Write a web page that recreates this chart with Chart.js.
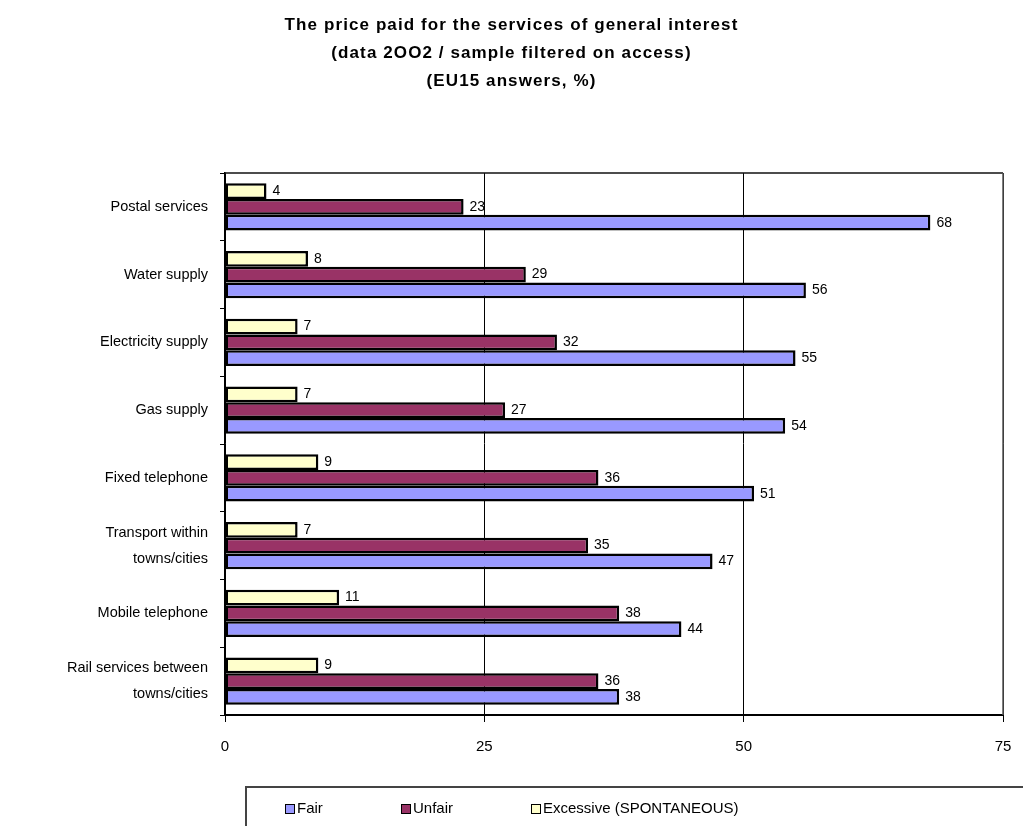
<!DOCTYPE html>
<html>
<head>
<meta charset="utf-8">
<script src="https://cdn.jsdelivr.net/npm/chart.js@4/dist/chart.umd.min.js"></script>
<style>
    body { margin: 0; background: #fff; }
    #wrap { position: relative; width: 1023px; height: 826px; overflow: hidden; }
    #legend {
        position: absolute; left: 245px; top: 786px; width: 780px; height: 60px;
        border: 2px solid #444; box-sizing: border-box;
        font-family: "Liberation Sans", Arial, sans-serif; font-size: 15px; color: #000;
    }
    .item { position: absolute; top: 11px; white-space: nowrap; }
    .sw { display: inline-block; width: 8px; height: 8px; border: 1.5px solid #000; margin-right: 2px; vertical-align: -1px; }
</style>
</head>
<body>
<div id="wrap">
    <canvas id="chart" width="1023" height="826"></canvas>
    <div id="legend">
        <span class="item" style="left:38px"><span class="sw" style="background:#9999ff"></span>Fair</span>
        <span class="item" style="left:154px"><span class="sw" style="background:#993366"></span>Unfair</span>
        <span class="item" style="left:284px"><span class="sw" style="background:#ffffcc"></span>Excessive (SPONTANEOUS)</span>
    </div>
</div>
<script>
    const titleLines = [
        "The price paid for the services of general interest",
        "(data 2OO2 / sample filtered on access)",
        "(EU15 answers, %)"
    ];
    const categories = [
        "Postal services",
        "Water supply",
        "Electricity supply",
        "Gas supply",
        "Fixed telephone",
        ["Transport within", "towns/cities"],
        "Mobile telephone",
        ["Rail services between", "towns/cities"]
    ];
    const fairValues = [68, 56, 55, 54, 51, 47, 44, 38];
    const unfairValues = [23, 29, 32, 27, 36, 35, 38, 36];
    const excessiveValues = [4, 8, 7, 7, 9, 7, 11, 9];
    const xTicks = [0, 25, 50, 75];

    const font = "'Liberation Sans', Arial, sans-serif";

    // Spaced-out bold title, drawn above the plot
    const spacedTitle = {
        id: "spacedTitle",
        afterDraw(chart) {
            const ctx = chart.ctx;
            ctx.save();
            ctx.font = "bold 17px " + font;
            ctx.letterSpacing = "1.1px";
            ctx.fillStyle = "#000";
            ctx.textAlign = "center";
            ctx.textBaseline = "middle";
            titleLines.forEach((t, i) => ctx.fillText(t, chart.width / 2, 25 + i * 28));
            ctx.restore();
        }
    };

    // Value labels at the end of each bar
    const valueLabels = {
        id: "valueLabels",
        afterDatasetsDraw(chart) {
            const ctx = chart.ctx;
            ctx.save();
            ctx.font = "14px " + font;
            ctx.fillStyle = "#000";
            ctx.textBaseline = "middle";
            chart.data.datasets.forEach((ds, i) => {
                chart.getDatasetMeta(i).data.forEach((bar, j) => {
                    ctx.fillText(String(ds.data[j]), bar.x + 6, bar.y);
                });
            });
            ctx.restore();
        }
    };

    // Top and right border of the plot area
    const plotFrame = {
        id: "plotFrame",
        beforeDatasetsDraw(chart) {
            const a = chart.chartArea;
            const ctx = chart.ctx;
            ctx.save();
            ctx.lineWidth = 1.5;
            ctx.strokeStyle = "#111";
            ctx.beginPath();
            ctx.moveTo(a.left, a.top);
            ctx.lineTo(a.right, a.top);
            ctx.stroke();
            ctx.strokeStyle = "#555";
            ctx.beginPath();
            ctx.moveTo(a.right, a.top);
            ctx.lineTo(a.right, a.bottom);
            ctx.stroke();
            ctx.restore();
        }
    };

    const barStyle = { borderColor: "#000", borderWidth: 2.5, borderSkipped: false, barPercentage: 1, categoryPercentage: 0.7 };

    new Chart(document.getElementById("chart"), {
        type: "bar",
        data: {
            labels: categories,
            datasets: [
                Object.assign({ label: "Excessive (SPONTANEOUS)", data: excessiveValues, backgroundColor: "#ffffcc" }, barStyle),
                Object.assign({ label: "Unfair", data: unfairValues, backgroundColor: "#993366" }, barStyle),
                Object.assign({ label: "Fair", data: fairValues, backgroundColor: "#9999ff" }, barStyle)
            ]
        },
        options: {
            indexAxis: "y",
            responsive: false,
            animation: false,
            layout: { padding: { left: 0, right: 20, top: 173, bottom: 0 } },
            plugins: {
                legend: { display: false },
                tooltip: { enabled: false },
                title: { display: false }
            },
            scales: {
                x: {
                    min: 0,
                    max: 75,
                    afterBuildTicks(scale) { scale.ticks = xTicks.map(v => ({ value: v })); },
                    afterFit(scale) {
                        scale.height = 111;
                        scale.paddingLeft = 0;
                        scale.paddingRight = 0;
                    },
                    grid: { color: "#000", lineWidth: 1, tickLength: 7 },
                    border: { color: "#000", width: 2 },
                    ticks: { color: "#000", padding: 16, font: { family: font, size: 15 } }
                },
                y: {
                    afterFit(scale) { scale.width = 225; },
                    grid: { drawOnChartArea: false, color: "#000", tickLength: 5 },
                    border: { color: "#000", width: 1.5 },
                    ticks: { color: "#000", padding: 12, font: { family: font, size: 14.5, lineHeight: 1.8 } }
                }
            }
        },
        plugins: [valueLabels, plotFrame, spacedTitle]
    });
</script>
</body>
</html>
